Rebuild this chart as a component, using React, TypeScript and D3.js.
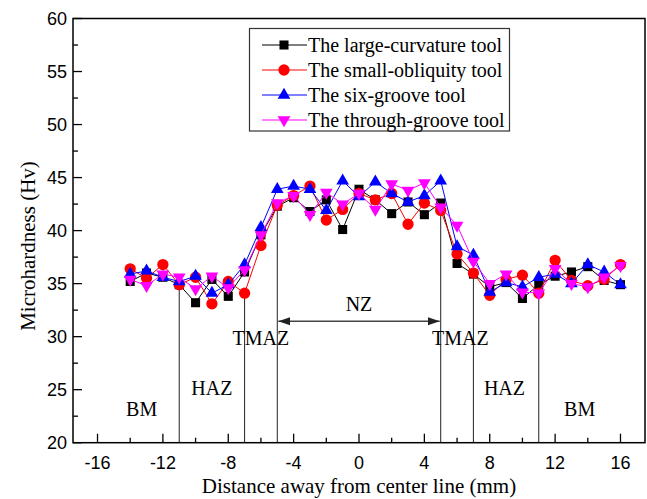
import React from 'react';
import * as d3 from 'd3';

// distance from center line (mm)
const positions = [
	-14, -13, -12, -11, -10, -9, -8, -7, -6, -5, -4, -3, -2, -1, 0, 1, 2, 3, 4, 5, 6, 7, 8, 9, 10, 11, 12, 13, 14, 15, 16,
];

const largeCurvature = [
	35.2, 36.0, 35.6, 34.9, 33.2, 35.4, 33.8, 36.1, 39.6, 42.3, 43.1, 41.8, 42.9, 40.1, 43.9, 42.9, 41.6, 42.7, 41.5, 42.6,
	36.9, 35.9, 34.7, 35.1, 33.6, 34.9, 35.7, 36.1, 36.6, 35.3, 34.9,
];
const smallObliquity = [
	36.4, 35.5, 36.8, 34.9, 35.6, 33.1, 35.2, 34.1, 38.6, 42.4, 43.3, 44.2, 41.0, 42.0, 43.5, 42.9, 43.5, 40.6, 42.6, 41.9,
	37.8, 36.0, 33.9, 35.4, 35.8, 34.1, 37.2, 35.3, 34.8, 35.4, 36.8,
];
const sixGroove = [
	35.9, 36.2, 35.6, 35.2, 35.7, 34.1, 34.9, 36.8, 40.3, 43.9, 44.2, 43.9, 41.9, 44.7, 43.2, 44.6, 43.5, 42.7, 43.3, 44.7,
	38.5, 37.7, 34.2, 35.1, 34.7, 35.6, 35.9, 35.0, 36.8, 36.1, 34.9,
];
const throughGroove = [
	35.4, 34.8, 35.9, 35.6, 34.5, 35.7, 34.6, 36.3, 39.6, 42.6, 43.3, 41.5, 43.6, 42.5, 43.5, 42.0, 44.4, 43.8, 44.5, 42.2,
	40.5, 37.1, 35.0, 35.9, 34.2, 34.1, 36.4, 35.0, 34.7, 35.6, 36.7,
];

const seriesNames = ['The large-curvature tool', 'The small-obliquity tool', 'The six-groove tool', 'The through-groove tool'];
const seriesColors = ['#000000', '#ff0000', '#0000ff', '#ff00ff'];
const seriesMarkers = ['square', 'circle', 'up', 'down'];
const seriesValues = [largeCurvature, smallObliquity, sixGroove, throughGroove];

const xTicks = [-16, -12, -8, -4, 0, 4, 8, 12, 16];
const xMinorTicks = d3.range(-16, 17, 2);
const yTicks = [20, 25, 30, 35, 40, 45, 50, 55, 60];
const yMinorTicks = d3.range(20, 60.1, 2.5);

// zone boundaries: x position and the hardness where the line starts
const zoneX = [-11, -7, -5, 5, 7, 11];
const zoneTop = [34.9, 34.1, 42.2, 42.6, 36.0, 34.8];
const zoneLabels = ['BM', 'HAZ', 'TMAZ', 'NZ', 'TMAZ', 'HAZ', 'BM'];
const zoneLabelX = [-13.3, -9, -6, 0, 6.2, 8.9, 13.5];
const zoneLabelY = [22.5, 24.5, 29.2, 32.4, 29.2, 24.5, 22.5];
const nzArrowY = 31.45;

const W = 647;
const H = 499;
const M = { left: 73, right: 645, top: 18.5, bottom: 442.7 };

const serif = '"Liberation Serif", "Times New Roman", serif';
const sans = '"Liberation Sans", Arial, sans-serif';

function markerPath(kind: string) {
	if (kind === 'square') return d3.symbol(d3.symbolSquare, 82)()!;
	if (kind === 'circle') return d3.symbol(d3.symbolCircle, 100)()!;
	return d3.symbol(d3.symbolTriangle, 70)()!;
}

export default function App() {
	const x = d3.scaleLinear().domain([-17.5, 17.5]).range([M.left, M.right]);
	const y = d3.scaleLinear().domain([20, 60]).range([M.bottom, M.top]);

	const lineGen = d3
		.line<number>()
		.x((_, i) => x(positions[i]))
		.y((v) => y(v));

	const legend = { x: 249.5, y: 28.5, w: 260, h: 102.5, row0: 45, step: 25 };

	return (
		<svg
			width={W}
			height={H}
			style={{ position: 'absolute', left: 0, top: 0, background: '#fff' }}
			xmlns="http://www.w3.org/2000/svg"
		>
			<defs>
				<marker id="arr" viewBox="0 0 10 10" refX="10" refY="5" markerWidth="8" markerHeight="8" orient="auto-start-reverse">
					<path d="M0,1.5 L10,5 L0,8.5 Z" fill="#222" />
				</marker>
			</defs>
			<rect width={W} height={H} fill="#fff" />

			{/* zone lines */}
			{zoneX.map((zx, i) => (
				<line key={zx} x1={x(zx)} x2={x(zx)} y1={y(zoneTop[i])} y2={y(20)} stroke="#222" strokeWidth={1} />
			))}
			<line
				x1={x(-5) + 1}
				x2={x(5) - 1}
				y1={y(nzArrowY)}
				y2={y(nzArrowY)}
				stroke="#444"
				strokeWidth={1.5}
				markerStart="url(#arr)"
				markerEnd="url(#arr)"
			/>
			{zoneLabels.map((t, i) => (
				<text key={i} x={x(zoneLabelX[i])} y={y(zoneLabelY[i])} textAnchor="middle" fontFamily={serif} fontSize={20}>
					{t}
				</text>
			))}

			{/* series */}
			{seriesValues.map((vals, s) => (
				<g key={seriesNames[s]}>
					<path d={lineGen(vals)!} fill="none" stroke={seriesColors[s]} strokeWidth={1} />
					{vals.map((v, i) => (
						<path
							key={i}
							d={markerPath(seriesMarkers[s])}
							transform={`translate(${x(positions[i])},${y(v)})${seriesMarkers[s] === 'down' ? ' rotate(180)' : ''}`}
							fill={seriesColors[s]}
						/>
					))}
				</g>
			))}

			{/* axes frame */}
			<rect
				x={M.left}
				y={M.top}
				width={M.right - M.left}
				height={M.bottom - M.top}
				fill="none"
				stroke="#000"
				strokeWidth={1.5}
			/>
			{xMinorTicks.map((t) => (
				<line key={`xm${t}`} x1={x(t)} x2={x(t)} y1={M.bottom} y2={M.bottom - (xTicks.includes(t) ? 9 : 5)} stroke="#000" strokeWidth={1.3} />
			))}
			{yMinorTicks.map((t) => (
				<line key={`ym${t}`} x1={M.left} x2={M.left + (t % 5 === 0 ? 9 : 5)} y1={y(t)} y2={y(t)} stroke="#000" strokeWidth={1.3} />
			))}
			{xTicks.map((t) => (
				<text key={`xl${t}`} x={x(t)} y={469} textAnchor="middle" fontFamily={sans} fontSize={18}>
					{t}
				</text>
			))}
			{yTicks.map((t) => (
				<text key={`yl${t}`} x={67} y={y(t) + 6.5} textAnchor="end" fontFamily={sans} fontSize={18}>
					{t}
				</text>
			))}
			<text x={(M.left + M.right) / 2} y={493} textAnchor="middle" fontFamily={serif} fontSize={21}>
				Distance away from center line (mm)
			</text>
			<text transform="translate(35,246) rotate(-90)" textAnchor="middle" fontFamily={serif} fontSize={21}>
				Microhardness (Hv)
			</text>

			{/* legend */}
			<rect x={legend.x} y={legend.y} width={legend.w} height={legend.h} fill="#fff" stroke="#333" strokeWidth={1.2} />
			{seriesNames.map((name, s) => {
				const cy = legend.row0 + s * legend.step;
				return (
					<g key={name}>
						<line x1={262} x2={307} y1={cy} y2={cy} stroke={seriesColors[s]} strokeWidth={1} />
						<path
							d={markerPath(seriesMarkers[s])}
							transform={`translate(284,${cy})${seriesMarkers[s] === 'down' ? ' rotate(180)' : ''}`}
							fill={seriesColors[s]}
						/>
						<text x={308} y={cy + 6.5} fontFamily={serif} fontSize={20}>
							{name}
						</text>
					</g>
				);
			})}
		</svg>
	);
}
